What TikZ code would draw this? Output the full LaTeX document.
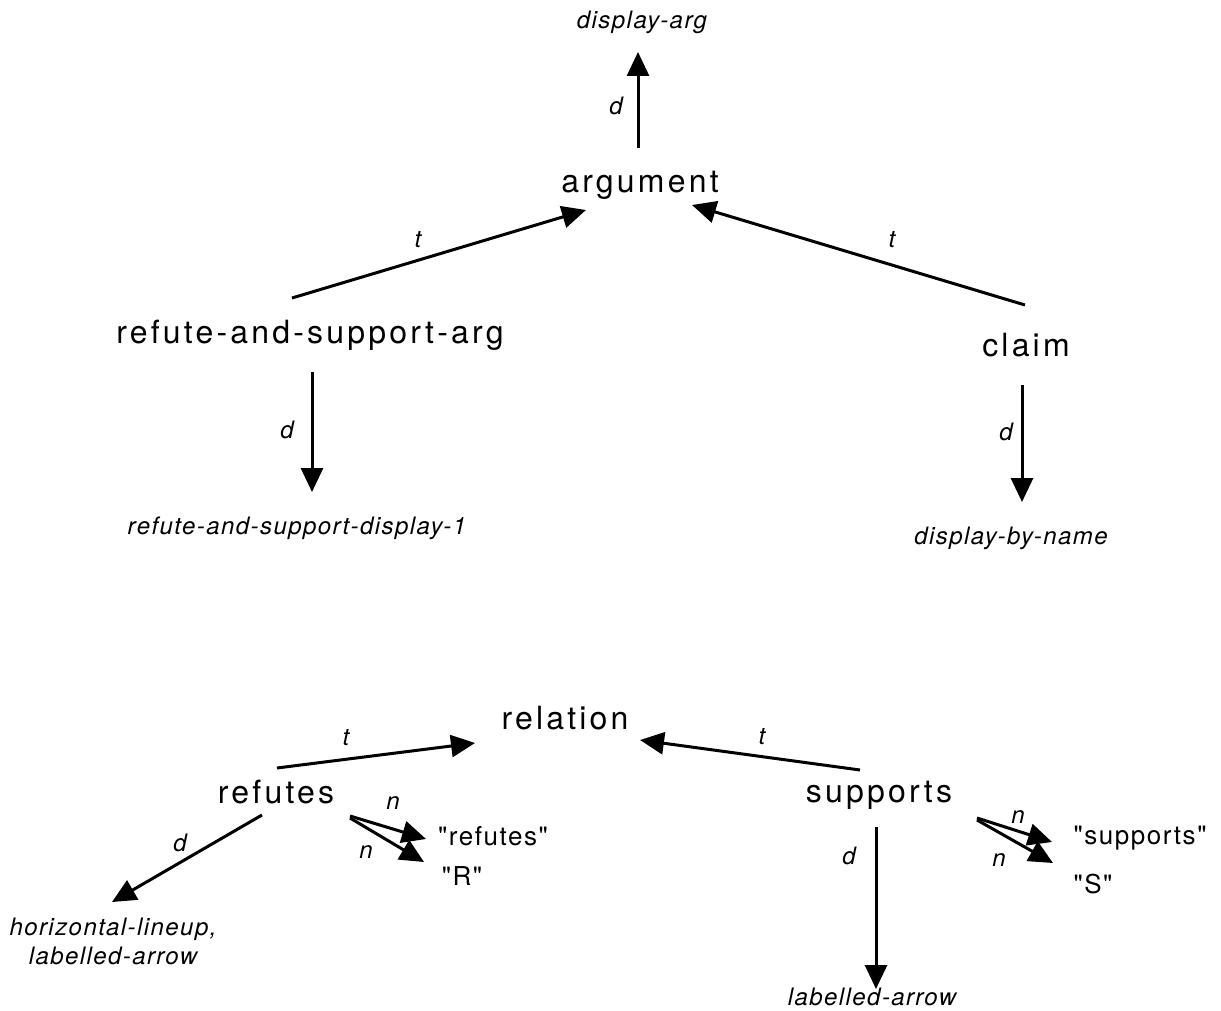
\documentclass[tikz,border=0pt]{standalone}
\usepackage{fontspec}
\setmainfont{TeX Gyre Heros}
\newfontfamily\mainfam[LetterSpace=10]{TeX Gyre Heros}
\newfontfamily\itfam[LetterSpace=6,ItalicFont={* Italic}]{TeX Gyre Heros}
\newfontfamily\qfam[LetterSpace=6]{TeX Gyre Heros}
\usetikzlibrary{arrows.meta,calc}
\begin{document}
\begin{tikzpicture}[x=0.5pt,y=-0.5pt,
  cls/.style={inner sep=0pt,font=\mainfam\fontsize{16}{18}\selectfont},
  disp/.style={inner sep=0pt,align=center,font=\itfam\itshape\fontsize{12}{14.5}\selectfont},
  quot/.style={inner sep=0pt,font=\qfam\fontsize{13}{15}\selectfont},
  lbl/.style={inner sep=0pt,font=\itshape\fontsize{12}{14}\selectfont},
  arr/.style={line width=1.5pt,-{Triangle[length=12pt,width=11pt]}}]
\fill[white] (0,0) rectangle (1221,1011);
\useasboundingbox (0,0) rectangle (1221,1011);
% nodes
\node[disp] (displayarg) at (642,22) {display-arg};
\node[cls] (argument) at (640,185) {argument};
\node[cls] (refsup) at (310,335) {refute-and-support-arg};
\node[cls] (claim) at (1026,345) {claim};
\node[disp] (refsupdisp) at (297,528) {refute-and-support-display-1};
\node[disp] (dispbyname) at (1011,538) {display-by-name};
\node[cls] (relation) at (565,718) {relation};
\node[cls] (refutes) at (276,792) {refutes};
\node[cls] (supports) at (879,795) {supports};
\node[disp] (hlineup) at (113,941) {horizontal-lineup,\\labelled-arrow};
\node[disp] (labarrow) at (872,997) {labelled-arrow};
\node[quot] (qrefutes) at (493,836) {"refutes"};
\node[quot] (qR) at (462,876) {"R"};
\node[quot] (qsupports) at (1140,838) {"supports"};
\node[quot] (qS) at (1093,884) {"S"};
% connectors
\draw[arr] ($(argument)+(-2,-37)$) -- ($(displayarg)+(-4,30)$);
\draw[arr] ($(refsup)+(-18,-37)$) -- ($(argument)+(-54,25)$);
\draw[arr] ($(claim)+(-1,-40)$) -- ($(argument)+(52,20)$);
\draw[arr] ($(refsup)+(2,37)$) -- ($(refsupdisp)+(15,-36)$);
\draw[arr] ($(claim)+(-4,40)$) -- ($(dispbyname)+(11,-36)$);
\draw[arr] ($(refutes)+(1,-24)$) -- ($(relation)+(-90,25)$);
\draw[arr] ($(supports)+(-19,-25)$) -- ($(relation)+(75,22)$);
\draw[arr] ($(refutes)+(-14,23)$) -- ($(hlineup)+(-1,-39)$);
\draw[arr] ($(refutes)+(74,24)$) -- ($(qrefutes)+(-67,3)$);
\draw[arr] ($(refutes)+(74,26)$) -- ($(qR)+(-38,-14)$);
\draw[arr] ($(supports)+(-3,32)$) -- ($(labarrow)+(4,-8)$);
\draw[arr] ($(supports)+(98,23)$) -- ($(qsupports)+(-88,4)$);
\draw[arr] ($(supports)+(98,25)$) -- ($(qS)+(-40,-21)$);
% connector labels
\node[lbl] (l1) at (616,106) {d};
\node[lbl] (l2) at (418,240) {t};
\node[lbl] (l3) at (892,240) {t};
\node[lbl] (l4) at (287,430) {d};
\node[lbl] (l5) at (1006,432) {d};
\node[lbl] (l6) at (346,738) {t};
\node[lbl] (l7) at (762,737) {t};
\node[lbl] (l8) at (180,843) {d};
\node[lbl] (l9) at (393,803) {n};
\node[lbl] (l10) at (366,852) {n};
\node[lbl] (l11) at (849,856) {d};
\node[lbl] (l12) at (1018,817) {n};
\node[lbl] (l13) at (999,860) {n};
\end{tikzpicture}
\end{document}
